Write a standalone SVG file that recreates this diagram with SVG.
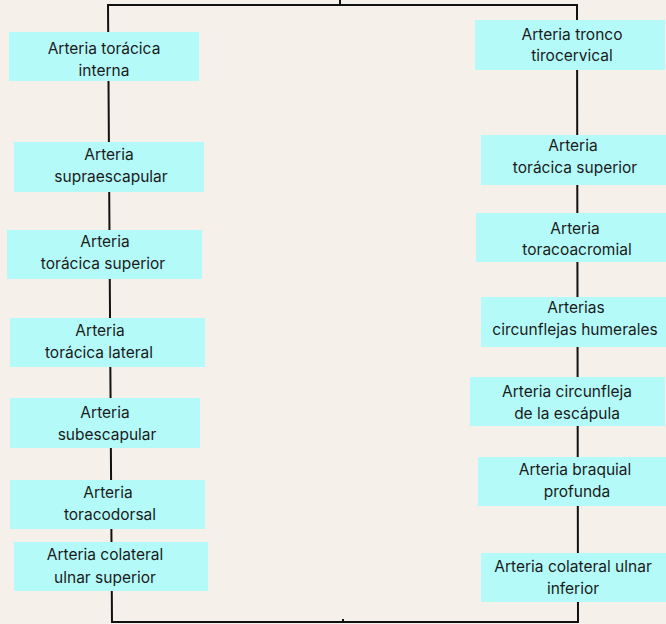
<svg xmlns="http://www.w3.org/2000/svg" width="666" height="624" viewBox="0 0 666 624">
<style>
.bg{fill:#F5F0EA}
.box{fill:#B4FAF9}
.ln{stroke:#111;stroke-width:2;fill:none}
text{font-family:"Inter","Noto Sans",sans-serif;font-size:15.5px;fill:#1a1a1a;text-anchor:middle}
</style>
<rect class="bg" x="0" y="0" width="666" height="624"/>
<g id="connectors">
<path class="ln" d="M108,5 L577,5 M340,0 L340,5 M108,4 L112,623 M577,4 L578,623 M111,622 L579,622 M343,619 L343,622"/>
</g>
<g id="n_l1"><rect class="box" x="9" y="32" width="190" height="49"/><text x="104" y="54">Arteria torácica</text><text x="104" y="76">interna</text></g>
<g id="n_l2"><rect class="box" x="14" y="142" width="190" height="50"/><text x="109" y="160">Arteria</text><text x="111" y="182">supraescapular</text></g>
<g id="n_l3"><rect class="box" x="7" y="230" width="195" height="49"/><text x="105" y="247">Arteria</text><text x="103" y="269">torácica superior</text></g>
<g id="n_l4"><rect class="box" x="10" y="318" width="195" height="49"/><text x="100" y="336">Arteria</text><text x="99" y="358">torácica lateral</text></g>
<g id="n_l5"><rect class="box" x="10" y="398" width="190" height="50"/><text x="105" y="418">Arteria</text><text x="107" y="440">subescapular</text></g>
<g id="n_l6"><rect class="box" x="10" y="480" width="195" height="49"/><text x="108" y="498">Arteria</text><text x="110" y="520">toracodorsal</text></g>
<g id="n_l7"><rect class="box" x="14" y="542" width="194" height="49"/><text x="105" y="560">Arteria colateral</text><text x="105" y="583">ulnar superior</text></g>
<g id="n_r1"><rect class="box" x="475" y="20" width="190" height="50"/><text x="572" y="40">Arteria tronco</text><text x="572" y="61">tirocervical</text></g>
<g id="n_r2"><rect class="box" x="481" y="135" width="185" height="50"/><text x="573" y="151">Arteria</text><text x="575" y="173">torácica superior</text></g>
<g id="n_r3"><rect class="box" x="476" y="213" width="190" height="49"/><text x="575" y="234">Arteria</text><text x="577" y="255">toracoacromial</text></g>
<g id="n_r4"><rect class="box" x="481" y="297" width="185" height="50"/><text x="576" y="313">Arterias</text><text x="575" y="335">circunflejas humerales</text></g>
<g id="n_r5"><rect class="box" x="470" y="377" width="195" height="49"/><text x="567" y="397">Arteria circunfleja</text><text x="567" y="419">de la escápula</text></g>
<g id="n_r6"><rect class="box" x="478" y="457" width="188" height="49"/><text x="575" y="475">Arteria braquial</text><text x="577" y="497">profunda</text></g>
<g id="n_r7"><rect class="box" x="481" y="553" width="185" height="49"/><text x="573" y="572">Arteria colateral ulnar</text><text x="573" y="594">inferior</text></g>
</svg>
